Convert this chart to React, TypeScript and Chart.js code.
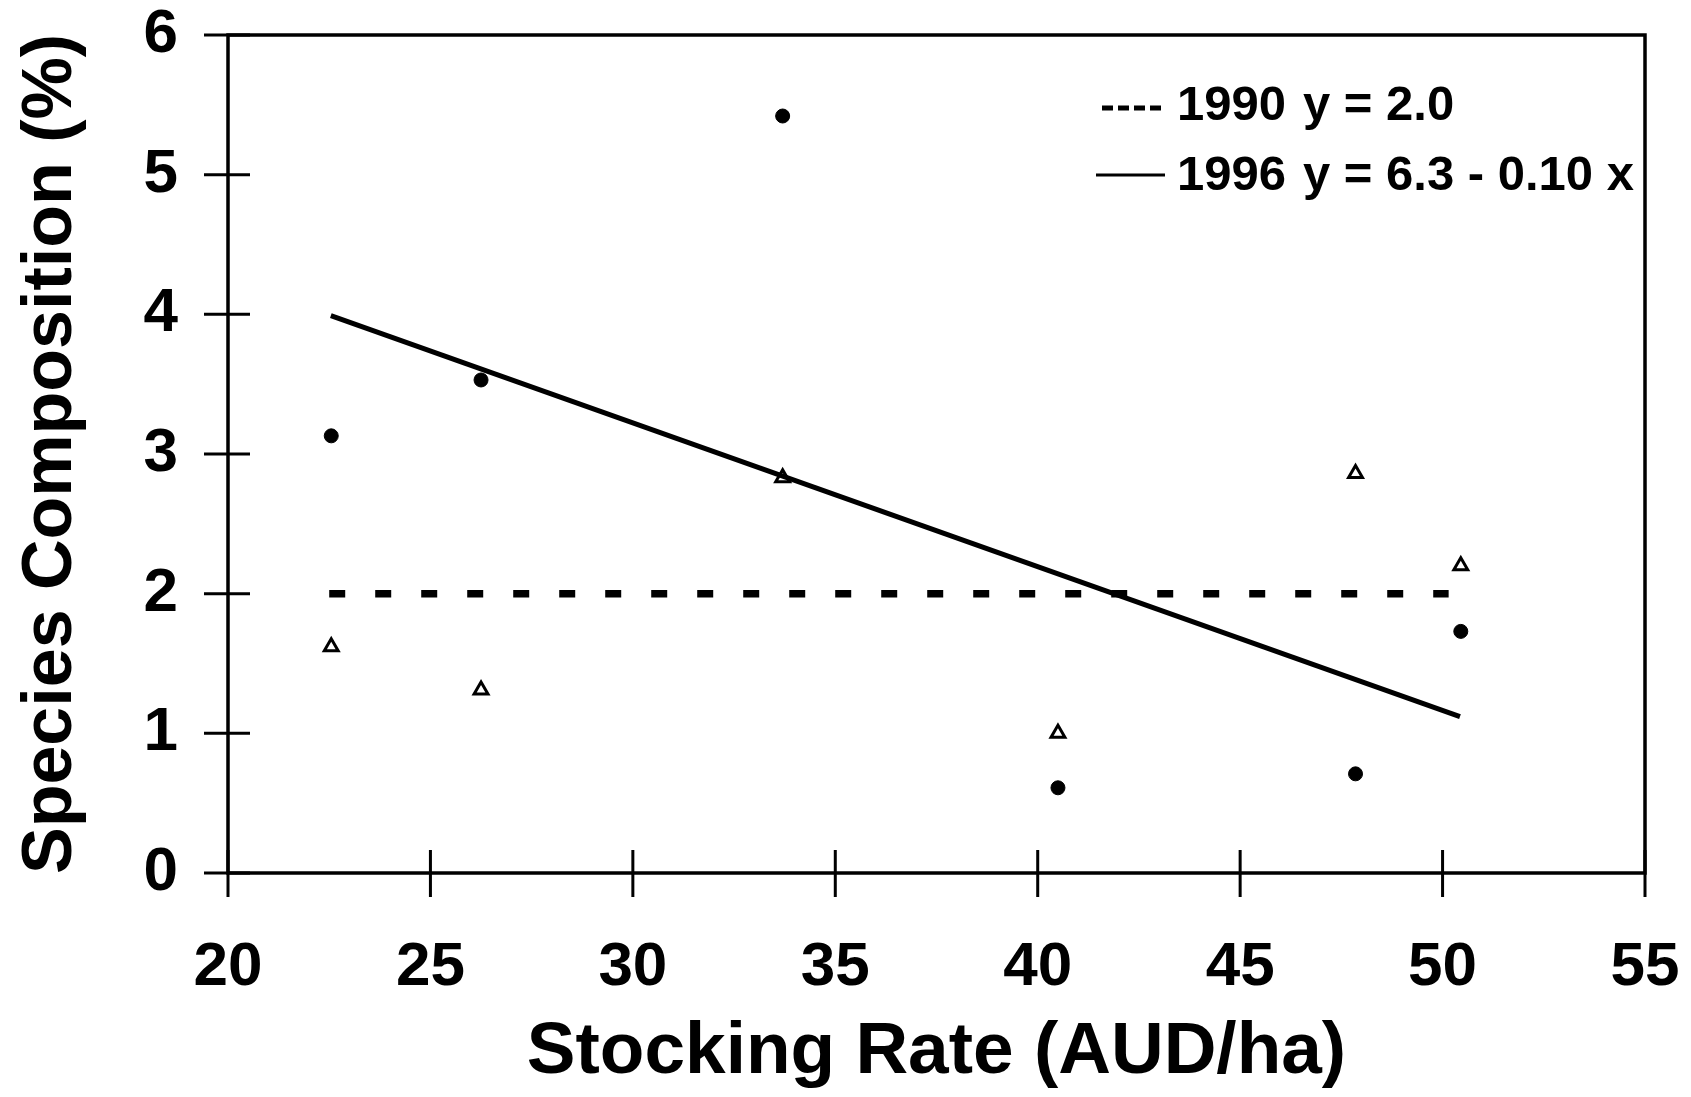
import React, { useEffect, useRef } from "react";
import { Chart, registerables } from "chart.js";

Chart.register(...registerables);

// Stocking rate (AUD/ha) of each paddock
const stockingRates = [22.55, 26.25, 33.7, 40.5, 47.85, 50.45];
// 1996 observations (filled circles)
const obs1996 = [3.13, 3.53, 5.42, 0.61, 0.71, 1.73];
// 1990 observations (open triangles)
const obs1990 = [1.62, 1.31, 2.83, 1.0, 2.86, 2.2];
// Fitted lines (end points)
const fit1996X = [22.54, 50.43];
const fit1996Y = [3.99, 1.12];
const mean1990X = [22.5, 50.15];
const mean1990Y = [2.0, 2.0];

const xTicks = [20, 25, 30, 35, 40, 45, 50, 55];
const yTicks = [0, 1, 2, 3, 4, 5, 6];

const legendYears = ["1990", "1996"];
const legendEquations = ["y = 2.0", "y = 6.3 - 0.10 x"];

const xTitle = "Stocking Rate (AUD/ha)";
const yTitle = "Species Composition (%)";

const FONT = "'Liberation Sans', Arial, Helvetica, sans-serif";

const whiteBg = {
  id: "whiteBg",
  beforeDraw(chart: any) {
    const { ctx, width, height } = chart;
    ctx.save();
    ctx.fillStyle = "#ffffff";
    ctx.fillRect(0, 0, width, height);
    ctx.restore();
  },
};

const framePlugin = {
  id: "frame",
  afterDatasetsDraw(chart: any) {
    const { ctx, chartArea, scales } = chart;
    const { left, right, top, bottom } = chartArea;
    ctx.save();
    ctx.strokeStyle = "#000";
    ctx.lineWidth = 3.5;
    ctx.strokeRect(left, top, right - left, bottom - top);
    ctx.lineWidth = 3;
    ctx.beginPath();
    scales.x.ticks.forEach((t: any) => {
      const px = scales.x.getPixelForValue(t.value);
      ctx.moveTo(px, bottom - 23);
      ctx.lineTo(px, bottom + 24);
    });
    scales.y.ticks.forEach((t: any) => {
      const py = scales.y.getPixelForValue(t.value);
      ctx.moveTo(left - 24, py);
      ctx.lineTo(left + 22, py);
    });
    ctx.stroke();
    ctx.restore();
  },
};

const legendPlugin = {
  id: "customLegend",
  afterDraw(chart: any) {
    const { ctx } = chart;
    ctx.save();
    ctx.fillStyle = "#000";
    ctx.strokeStyle = "#000";
    ctx.font = `bold 49px ${FONT}`;
    ctx.textBaseline = "middle";
    ctx.textAlign = "left";
    const rows = [106, 176];
    // sample 1: dashed
    ctx.lineWidth = 5;
    ctx.setLineDash([11, 5]);
    ctx.beginPath();
    ctx.moveTo(1102, 108);
    ctx.lineTo(1166, 108);
    ctx.stroke();
    // sample 2: solid
    ctx.setLineDash([]);
    ctx.lineWidth = 3;
    ctx.beginPath();
    ctx.moveTo(1096, 175);
    ctx.lineTo(1165, 175);
    ctx.stroke();
    legendYears.forEach((yr, i) => {
      ctx.fillText(yr, 1177, rows[i]);
      ctx.fillText(legendEquations[i], 1303, rows[i]);
    });
    ctx.restore();
  },
};

const noScalePadding = (s: any) => {
  s.paddingTop = 0;
  s.paddingBottom = 0;
  s.paddingLeft = 0;
  s.paddingRight = 0;
};

export default function App() {
  const ref = useRef<HTMLCanvasElement | null>(null);

  useEffect(() => {
    if (!ref.current) return;
    const chart = new Chart(ref.current, {
      type: "scatter",
      data: {
        datasets: [
          {
            label: "1996 fit",
            data: fit1996X.map((x, i) => ({ x, y: fit1996Y[i] })),
            showLine: true,
            borderColor: "#000",
            borderWidth: 5,
            pointRadius: 0,
            fill: false,
          },
          {
            label: "1990 mean",
            data: mean1990X.map((x, i) => ({ x, y: mean1990Y[i] })),
            showLine: true,
            borderColor: "#000",
            borderWidth: 7.5,
            borderDash: [16, 30],
            borderCapStyle: "butt",
            pointRadius: 0,
            fill: false,
          },
          {
            label: "1996",
            data: stockingRates.map((x, i) => ({ x, y: obs1996[i] })),
            pointStyle: "circle",
            pointRadius: 7,
            pointBorderWidth: 1,
            backgroundColor: "#000",
            borderColor: "#000",
          },
          {
            label: "1990",
            data: stockingRates.map((x, i) => ({ x, y: obs1990[i] })),
            pointStyle: "triangle",
            pointRadius: 8,
            pointBorderWidth: 3,
            backgroundColor: "#fff",
            borderColor: "#000",
          },
        ],
      },
      options: {
        animation: false,
        responsive: false,
        devicePixelRatio: 1,
        layout: { padding: { top: 35, right: 46, left: 0, bottom: 0 } },
        plugins: {
          legend: { display: false },
          tooltip: { enabled: false },
        },
        scales: {
          x: {
            type: "linear",
            min: 20,
            max: 55,
            afterBuildTicks: (s: any) => {
              s.ticks = xTicks.map((v) => ({ value: v }));
            },
            afterFit: (s: any) => {
              s.height = 224;
              noScalePadding(s);
            },
            grid: {
              display: true,
              drawOnChartArea: false,
              drawTicks: true,
              tickLength: 24,
              color: "rgba(0,0,0,0)",
            },
            border: { display: false },
            ticks: {
              color: "#000",
              padding: 40,
              maxRotation: 0,
              font: { family: FONT, size: 62, weight: "bold", lineHeight: 1 },
            },
            title: {
              display: true,
              text: xTitle,
              color: "#000",
              padding: { top: 0, bottom: 0 },
              font: { family: FONT, size: 73, weight: "bold", lineHeight: 1.2 },
            },
          },
          y: {
            type: "linear",
            min: 0,
            max: 6,
            afterBuildTicks: (s: any) => {
              s.ticks = yTicks.map((v) => ({ value: v }));
            },
            afterFit: (s: any) => {
              s.width = 228;
              noScalePadding(s);
            },
            grid: {
              display: true,
              drawOnChartArea: false,
              drawTicks: true,
              tickLength: 24,
              color: "rgba(0,0,0,0)",
            },
            border: { display: false },
            ticks: {
              color: "#000",
              padding: 26,
              font: { family: FONT, size: 62, weight: "bold", lineHeight: 1 },
            },
            title: {
              display: true,
              text: yTitle,
              color: "#000",
              padding: { top: 10, bottom: 0 },
              font: { family: FONT, size: 70, weight: "bold", lineHeight: 1.2 },
            },
          },
        },
      },
      plugins: [whiteBg, framePlugin, legendPlugin],
    } as any);
    return () => chart.destroy();
  }, []);

  return (
    <div style={{ position: "absolute", left: 0, top: 0, width: 1691, height: 1097 }}>
      <canvas ref={ref} width={1691} height={1097} style={{ width: 1691, height: 1097 }} />
    </div>
  );
}
